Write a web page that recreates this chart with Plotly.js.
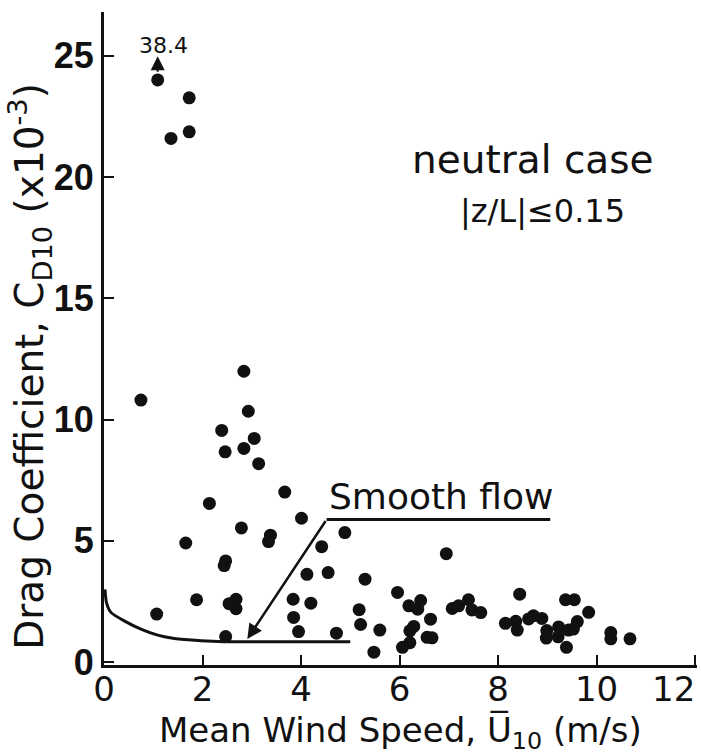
<!DOCTYPE html>
<html><head><meta charset="utf-8">
<script src="https://cdn.plot.ly/plotly-3.0.1.min.js"></script>
<style>body{margin:0;background:#fff}</style>
</head><body><div id="chart" style="width:701px;height:755px"></div>
<script>
// Observed data points (mean wind speed m/s, drag coefficient x10^-3)
const windSpeed = [1.09,1.73,1.73,1.36,0.75,2.84,2.93,2.39,3.05,2.84,2.46,3.14,3.67,2.14,4.01,2.79,3.38,3.34,1.66,4.89,
  4.42,2.47,2.44,4.12,4.55,5.30,1.88,2.54,2.68,2.68,3.84,4.20,1.07,5.18,3.85,5.21,5.60,3.95,4.72,2.47,
  5.48,5.96,6.19,6.43,6.37,6.63,6.29,6.21,6.56,6.66,6.21,6.06,7.07,7.20,7.40,7.47,7.65,6.95,8.44,8.15,
  8.36,8.39,8.62,8.72,8.89,8.99,8.98,9.23,9.22,9.37,9.55,9.43,9.53,9.61,9.84,9.39,10.29,10.29,10.68];
const dragCoef = [24.0,23.26,21.86,21.59,10.8,11.99,10.34,9.55,9.22,8.81,8.67,8.18,7.01,6.54,5.93,5.53,5.23,4.97,4.91,5.34,
  4.76,4.17,3.98,3.62,3.69,3.42,2.57,2.41,2.59,2.20,2.59,2.43,1.98,2.16,1.84,1.55,1.32,1.26,1.19,1.05,
  0.41,2.87,2.32,2.54,2.18,1.77,1.47,1.29,1.02,1.00,0.80,0.61,2.21,2.32,2.57,2.15,2.04,4.47,2.80,1.60,
  1.68,1.32,1.78,1.91,1.80,1.30,0.99,1.45,1.04,2.57,2.57,1.32,1.36,1.67,2.05,0.61,1.22,0.96,0.96];
// Smooth-flow reference curve
const smoothU  = [0.02,0.05,0.14,0.41,0.75,1.09,1.43,1.97,2.44,5.0];
const smoothCd = [3.0,2.45,2.05,1.70,1.36,1.11,0.97,0.88,0.84,0.84];
// Off-scale point marker
const offscaleU = [1.09];
const offscaleCd = [24.0];
const offscaleText = ['38.4'];
// Ticks (the last x label sits at the right edge, drawn right-aligned)
const xTicks = [0,2,4,6,8,10,12];
const xTickLabels = ['0','2','4','6','8','10',''];
const xEdgeLabel = '12';
const yTicks = [0,5,10,15,20,25];
const yTickLabels = ['0','5','10','15','20','25'];

const txt = 'DejaVu Sans, Noto Sans, sans-serif';

const traces = [
  {x: windSpeed, y: dragCoef, mode:'markers', type:'scatter',
   marker:{color:'#111', size:13}, hoverinfo:'x+y', showlegend:false},
  {x: smoothU, y: smoothCd, mode:'lines', type:'scatter',
   line:{color:'#111', width:3, shape:'spline', smoothing:0.6}, showlegend:false}
];

const layout = {
  width:701, height:755,
  margin:{l:104, r:4, t:12, b:90},
  paper_bgcolor:'#fff', plot_bgcolor:'#fff',
  font:{family:txt, color:'#111'},
  xaxis:{range:[0,12.04], showline:true, linewidth:3, linecolor:'#111', mirror:false,
    ticks:'inside', ticklen:10, tickwidth:2, tickcolor:'#111',
    tickvals:xTicks, ticktext:xTickLabels, showgrid:false, zeroline:false,
    tickfont:{family:txt, size:34, color:'#111'}, ticklabelstandoff:-8,
    title:{text:''}},
  yaxis:{range:[-0.12,26.8], showline:true, linewidth:3, linecolor:'#111',
    ticks:'inside', ticklen:10, tickwidth:2, tickcolor:'#111',
    tickvals:yTicks, ticktext:yTickLabels, showgrid:false, zeroline:false,
    tickfont:{family:'Liberation Sans, Arial, sans-serif', size:36, color:'#111', weight:'bold'},
    title:{text:''}},
  shapes:[
    {type:'line', xref:'x', yref:'y', x0:4.52, x1:9.06, y0:5.88, y1:5.88, line:{color:'#111', width:3}}
  ],
  annotations:[
    {x:12.04, y:-0.0365, xref:'x', yref:'paper', xanchor:'right', yanchor:'middle', text:xEdgeLabel,
     showarrow:false, font:{family:txt, size:34, color:'#111'}},
    {x:0.5, y:-0.104, xref:'paper', yref:'paper', xanchor:'center', yanchor:'middle',
     text:'Mean Wind Speed, U\u0305<sub>10</sub> (m/s)', showarrow:false,
     font:{family:txt, size:34, color:'#111'}},
    {x:-0.125, y:0.458, xref:'paper', yref:'paper', textangle:-90, xanchor:'center', yanchor:'middle',
     text:'Drag Coefficient, C<sub>D10</sub> (x10<sup>-3</sup>)', showarrow:false,
     font:{family:txt, size:39, color:'#111'}},
    {x:offscaleU[0]+0.12, y:25.43, xref:'x', yref:'y', text:offscaleText[0], showarrow:false,
     font:{family:txt, size:22, color:'#111'}},
    {x:offscaleU[0], y:24.98, ax:offscaleU[0], ay:offscaleCd[0]+0.28, xref:'x', yref:'y', axref:'x', ayref:'y',
     text:'', showarrow:true, arrowhead:2, arrowsize:1.4, arrowwidth:2, arrowcolor:'#111'},
    {x:2.91, y:0.95, ax:4.52, ay:5.88, xref:'x', yref:'y', axref:'x', ayref:'y',
     text:'', showarrow:true, arrowhead:2, arrowsize:1.2, arrowwidth:2.5, arrowcolor:'#111'},
    {x:4.52, y:5.88, xref:'x', yref:'y', xanchor:'left', yanchor:'bottom', text:'Smooth flow',
     showarrow:false, font:{family:txt, size:36, color:'#111'}},
    {x:8.70, y:20.7, xref:'x', yref:'y', text:'neutral case', showarrow:false,
     font:{family:txt, size:39, color:'#111'}},
    {x:8.90, y:18.6, xref:'x', yref:'y', text:'|z/L|\u22640.15', showarrow:false,
     font:{family:txt, size:32, color:'#111'}}
  ]
};

Plotly.newPlot('chart', traces, layout, {displayModeBar:false, staticPlot:true});
</script>
</body></html>
